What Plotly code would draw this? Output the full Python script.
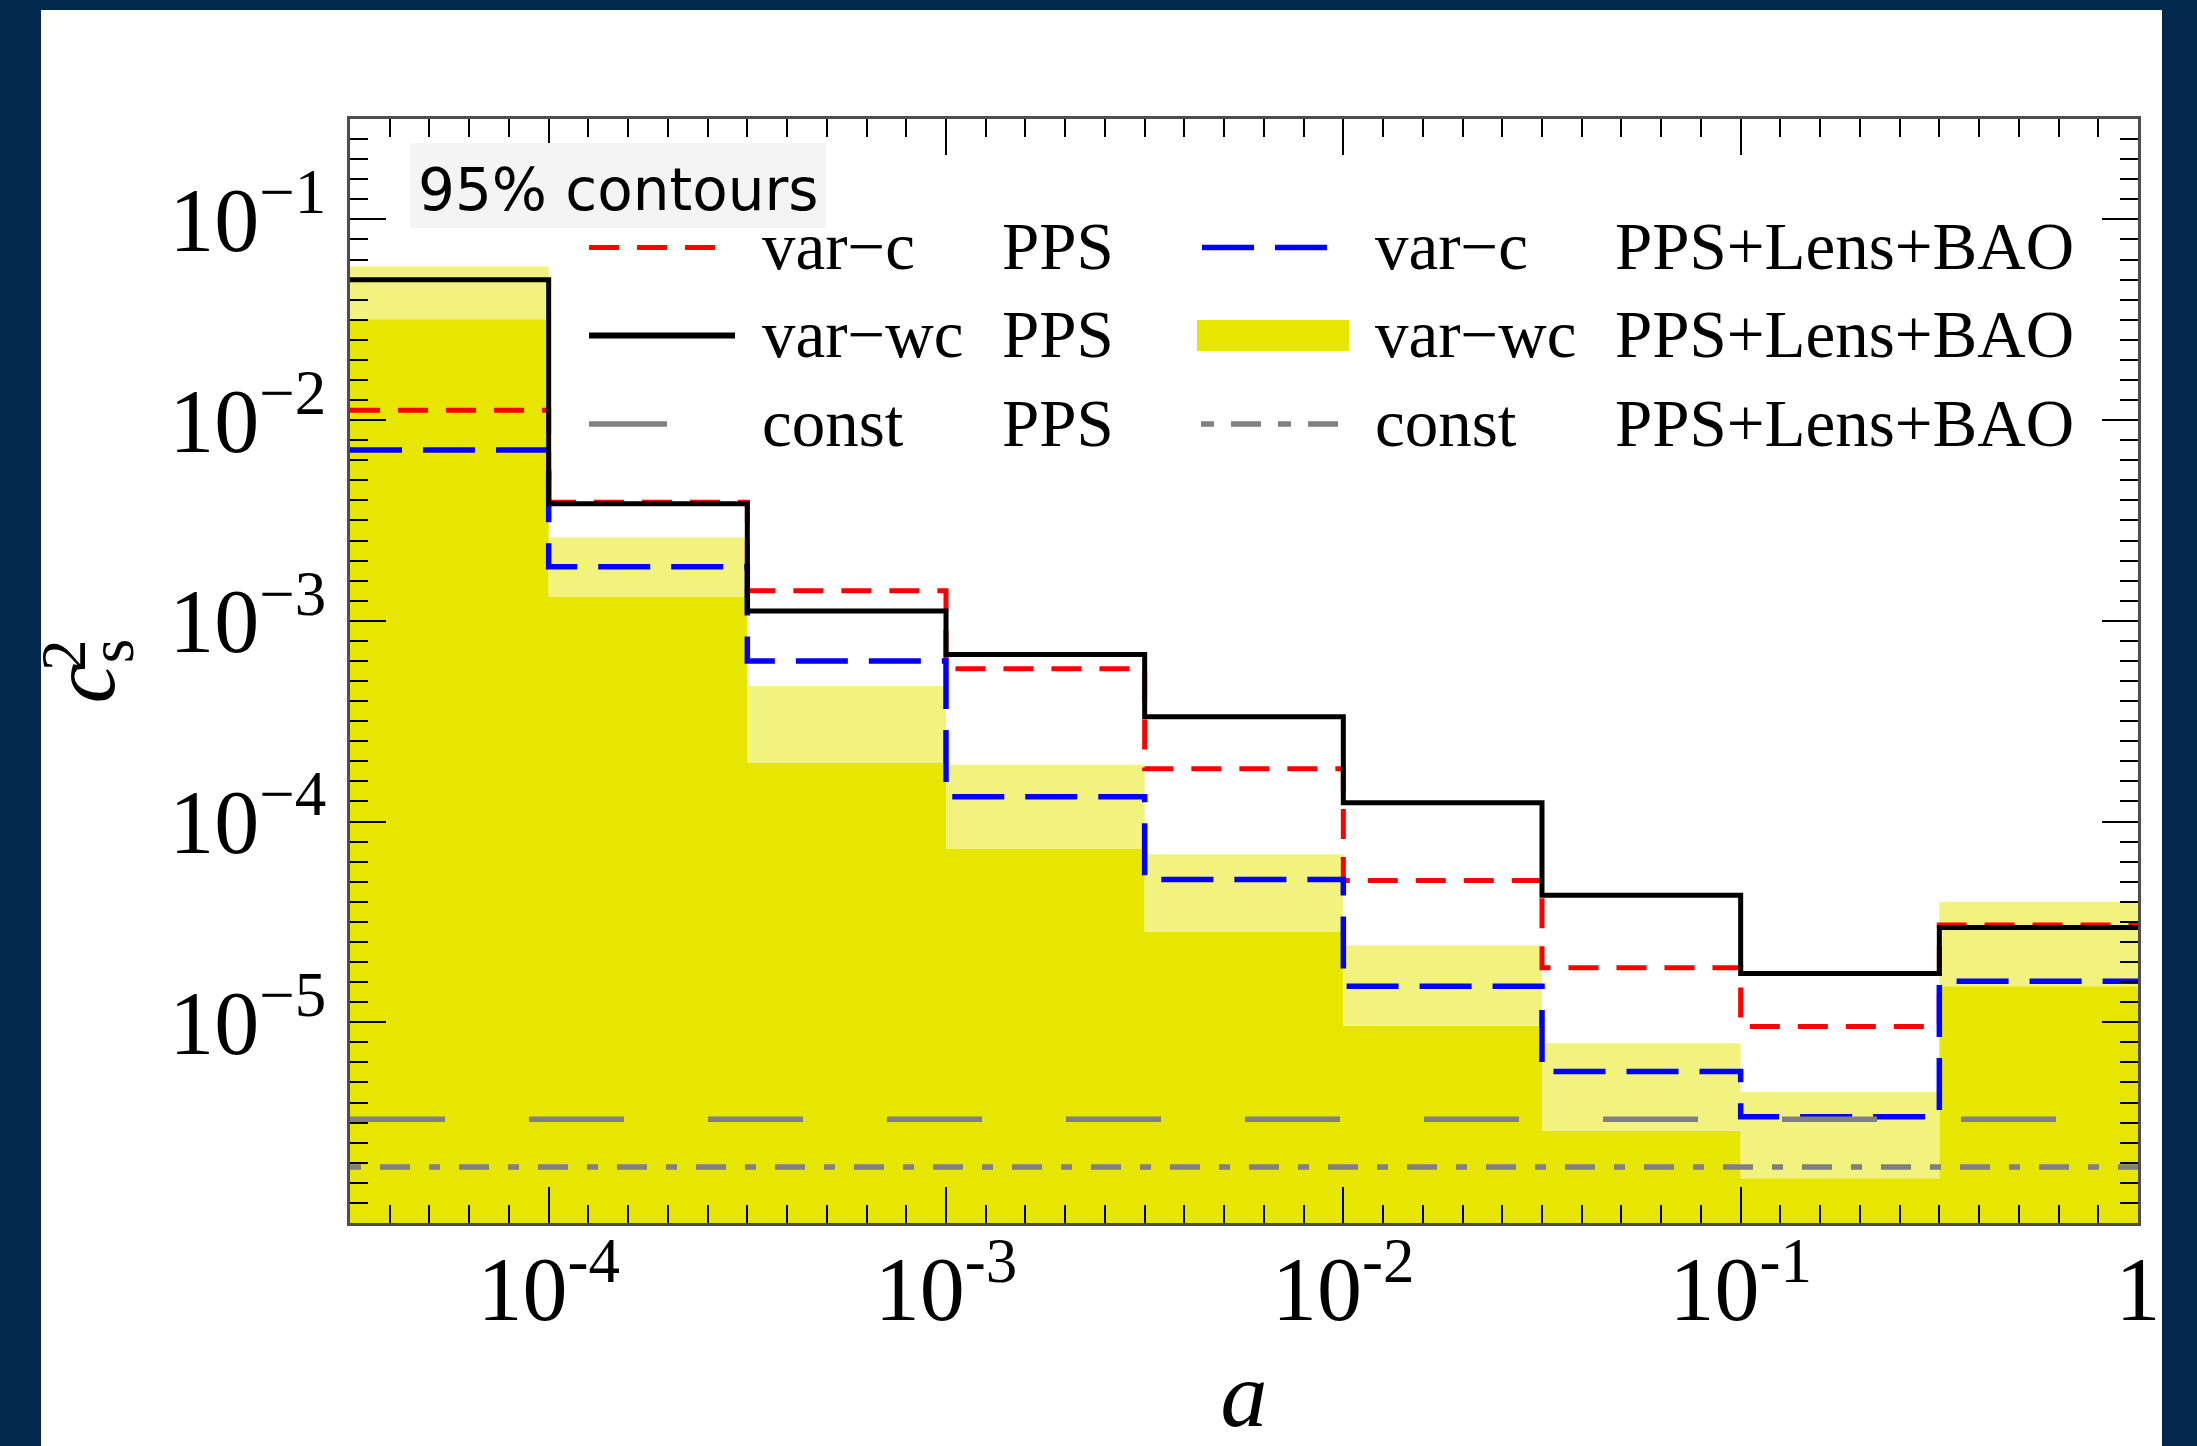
import numpy as np
import plotly.graph_objects as go

# Bin edges in the scale factor a (half-decade bins)
a_edges = [3.1623e-5, 1e-4, 3.1623e-4, 1e-3, 3.1623e-3, 1e-2, 3.1623e-2, 0.1, 0.31623, 1.0]

# 95% upper limits on c_s^2 in each bin
varc_pps = [1.12e-2, 3.9e-3, 1.41e-3, 5.77e-4, 1.83e-4, 5.09e-5, 1.87e-5, 9.54e-6, 3.05e-5]
varwc_pps = [5.0e-2, 3.83e-3, 1.12e-3, 6.8e-4, 3.33e-4, 1.24e-4, 4.29e-5, 1.75e-5, 2.97e-5]
varc_lbao = [7.1e-3, 1.86e-3, 6.3e-4, 1.33e-4, 5.14e-5, 1.51e-5, 5.69e-6, 3.38e-6, 1.6e-5]
varwc_lbao_hi = [5.83e-2, 2.6e-3, 4.74e-4, 1.92e-4, 6.87e-5, 2.41e-5, 7.87e-6, 4.49e-6, 3.98e-5]
varwc_lbao_lo = [3.18e-2, 1.315e-3, 1.96e-4, 7.34e-5, 2.82e-5, 9.6e-6, 2.88e-6, 1.67e-6, 1.51e-5]
const_pps = 3.29e-6
const_lbao = 1.90e-6
fill_floor = 1e-7

# Legend rows: (model, data set)
legend_left = [("var\u2212c", "PPS"), ("var\u2212wc", "PPS"), ("const", "PPS")]
legend_right = [("var\u2212c", "PPS+Lens+BAO"), ("var\u2212wc", "PPS+Lens+BAO"),
                ("const", "PPS+Lens+BAO")]
box_label = "95% contours"

# Tick labels at whole decades
x_label_exp = [-4, -3, -2, -1, 0]
x_label_txt = ["10<sup>-4</sup>", "10<sup>-3</sup>", "10<sup>-2</sup>", "10<sup>-1</sup>", "1"]
y_label_exp = [-5, -4, -3, -2, -1]
y_label_txt = ["10<sup>\u22125</sup>", "10<sup>\u22124</sup>", "10<sup>\u22123</sup>",
               "10<sup>\u22122</sup>", "10<sup>\u22121</sup>"]

RED, BLUE, BLACK, GRAY = "#ff0000", "#0000ff", "#000000", "#808080"
YEL, YEL_LIGHT = "#e6e600", "#f2f27f"
NAVY = "#02284e"
SERIF = "Liberation Serif"


def stepped(vals):
    return list(vals) + [vals[-1]]


fig = go.Figure()

# filled var-wc PPS+Lens+BAO region: solid part and lighter upper band
fig.add_trace(go.Scatter(x=a_edges, y=[fill_floor] * len(a_edges), mode="lines",
                         line=dict(width=0, shape="hv"), showlegend=False, hoverinfo="skip"))
fig.add_trace(go.Scatter(x=a_edges, y=stepped(varwc_lbao_lo), mode="lines",
                         line=dict(width=0, shape="hv"), fill="tonexty", fillcolor=YEL,
                         showlegend=False))
fig.add_trace(go.Scatter(x=a_edges, y=stepped(varwc_lbao_hi), mode="lines",
                         line=dict(width=0, shape="hv"), fill="tonexty", fillcolor=YEL_LIGHT,
                         showlegend=False))

fig.add_trace(go.Scatter(x=a_edges, y=stepped(varc_pps), mode="lines",
                         line=dict(color=RED, width=5, shape="hv", dash="30px,18px"),
                         showlegend=False))
fig.add_trace(go.Scatter(x=a_edges, y=stepped(varc_lbao), mode="lines",
                         line=dict(color=BLUE, width=5.5, shape="hv", dash="52px,21px"),
                         showlegend=False))
fig.add_trace(go.Scatter(x=[a_edges[0], a_edges[-1]], y=[const_pps, const_pps], mode="lines",
                         line=dict(color=GRAY, width=5.5, dash="95px,84px"), showlegend=False))
fig.add_trace(go.Scatter(x=[a_edges[0], a_edges[-1]], y=[const_lbao, const_lbao], mode="lines",
                         line=dict(color=GRAY, width=5.5, dash="11px,19px,30px,19px"),
                         showlegend=False))
fig.add_trace(go.Scatter(x=a_edges, y=stepped(varwc_pps), mode="lines",
                         line=dict(color=BLACK, width=5, shape="hv"), showlegend=False))

# frame geometry in pixels
W, H = 2197, 1446
PL, PR, PT, PB = 350, 2138, 119, 1223


def px(x):
    return (x - PL) / (PR - PL)


def py(y):
    return (PB - y) / (PB - PT)


shapes = [
    # white panel inside the navy border
    dict(type="rect", xref="paper", yref="paper", x0=px(41), x1=px(2162), y0=py(H + 20),
         y1=py(10), fillcolor="white", line=dict(width=0), layer="below"),
    # label box
    dict(type="rect", xref="paper", yref="paper", x0=px(410), x1=px(826), y0=py(228),
         y1=py(143), fillcolor="#f4f4f4", line=dict(width=0), layer="above"),
]

row_y = [247.5, 335.5, 424]
text_y = [246, 334, 423]


def seg(x0, x1, y, color, width, dash="solid"):
    return dict(type="line", xref="paper", yref="paper", x0=px(x0), x1=px(x1), y0=py(y),
                y1=py(y), line=dict(color=color, width=width, dash=dash))


shapes += [
    seg(589, 715, row_y[0], RED, 5, "30px,18px"),
    seg(589, 735, row_y[1], BLACK, 6),
    seg(589, 667, row_y[2], GRAY, 5.5),
    seg(1202, 1329, row_y[0], BLUE, 5.5, "52px,21px"),
    dict(type="rect", xref="paper", yref="paper", x0=px(1197), x1=px(1349), y0=py(351),
         y1=py(320), fillcolor=YEL, line=dict(width=0)),
    seg(1201, 1338, row_y[2], GRAY, 5.5, "13px,17px,30px,17px"),
]

annotations = [
    dict(text=box_label, xref="paper", yref="paper", x=px(618), y=py(190), xanchor="center",
         yanchor="middle", showarrow=False, font=dict(family="DejaVu Sans", size=58, color="black")),
    dict(text="2", xref="paper", yref="paper", x=px(64), y=py(655), xanchor="center",
         yanchor="middle", showarrow=False, textangle=-90,
         font=dict(family=SERIF, size=63, color="black")),
]
for cols, (xm, xd) in ((legend_left, (760, 1000)), (legend_right, (1373, 1613))):
    for (model, data), ty in zip(cols, text_y):
        for txt, xx in ((model, xm), (data, xd)):
            annotations.append(dict(text=txt, xref="paper", yref="paper", x=px(xx), y=py(ty),
                                    xanchor="left", yanchor="middle", showarrow=False,
                                    font=dict(family=SERIF, size=67, color="black")))

# tick positions: long ticks every half decade, short ones every tenth of a decade
x_half = [10 ** e for e in np.arange(-4.5, 0.001, 0.5)]
y_half = [10 ** e for e in np.arange(-6, -0.499, 0.5)]
x_minor = [10 ** e for e in np.round(np.arange(-4.5, 0.001, 0.1), 2)]
y_minor = [10 ** e for e in np.round(np.arange(-6, -0.499, 0.1), 2)]

tick_style = dict(ticks="inside", ticklen=36, tickwidth=2, tickcolor="black",
                  mirror="allticks", showgrid=False, zeroline=False, type="log")
minor_style = dict(ticks="inside", ticklen=18, tickwidth=2, tickcolor="black", showgrid=False)

fig.update_layout(
    width=W, height=H, template="none",
    margin=dict(l=PL, r=W - PR, t=PT, b=H - PB, pad=0),
    paper_bgcolor=NAVY, plot_bgcolor="white",
    shapes=shapes, annotations=annotations, showlegend=False,
    xaxis=dict(tick_style, range=[-4.5, 0], showline=True, linecolor="#4d4d4d", linewidth=2.5,
               tickvals=[10 ** e for e in x_label_exp], ticktext=x_label_txt,
               tickfont=dict(family=SERIF, size=90, color="black"),
               ticklabelstandoff=-14,
               minor=dict(minor_style, tickvals=x_minor),
               title=dict(text="<i>a</i>", font=dict(family=SERIF, size=94, color="black"),
                          standoff=71)),
    yaxis=dict(tick_style, range=[-6, -0.5], showline=True, linecolor="#4d4d4d", linewidth=2.5,
               tickvals=[10 ** e for e in y_label_exp], ticktext=y_label_txt,
               tickfont=dict(family=SERIF, size=90, color="black"),
               ticklabelstandoff=3,
               minor=dict(minor_style, tickvals=y_minor),
               title=dict(text="<i>c</i><sub>s</sub>",
                          font=dict(family=SERIF, size=90, color="black"), standoff=25)),
    # unlabelled half-decade ticks
    xaxis2=dict(tick_style, range=[-4.5, 0], overlaying="x", anchor="y", side="bottom",
                showline=False, tickvals=x_half, showticklabels=False),
    yaxis2=dict(tick_style, range=[-6, -0.5], overlaying="y", anchor="x", side="left",
                showline=False, tickvals=y_half, showticklabels=False),
)

fig.write_html("out.html")
